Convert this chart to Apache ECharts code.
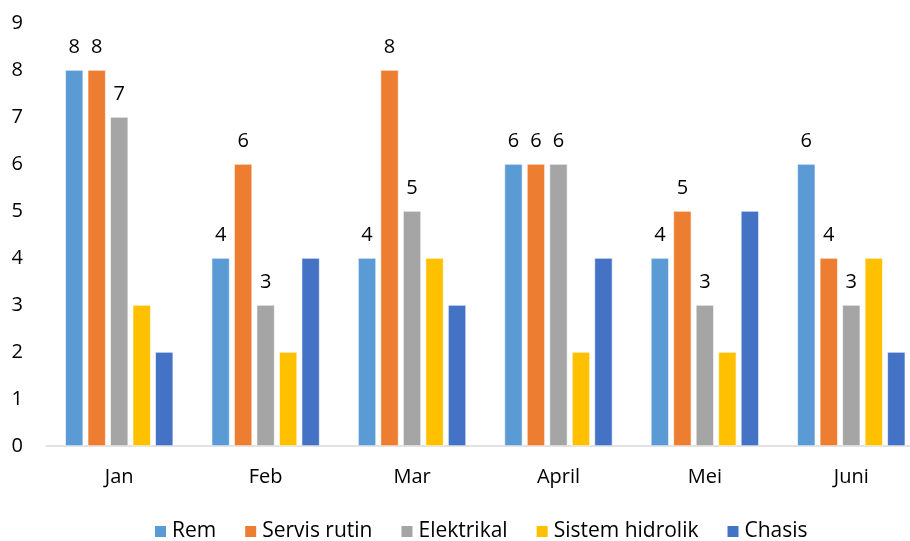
<!DOCTYPE html>
<html>
<head>
<meta charset="utf-8">
<script src="https://cdn.jsdelivr.net/npm/echarts@6/dist/echarts.min.js"></script>
<style>
html, body { margin: 0; padding: 0; background: #fff; }
#chart { width: 910px; height: 541px; }
</style>
</head>
<body>
<div id="chart"></div>
<script>
// Monthly repair counts per category
const months = ['Jan', 'Feb', 'Mar', 'April', 'Mei', 'Juni'];
const rem = [8, 4, 4, 6, 4, 6];
const servisRutin = [8, 6, 8, 6, 5, 4];
const elektrikal = [7, 3, 5, 6, 3, 3];
const sistemHidrolik = [3, 2, 4, 2, 2, 4];
const chasis = [2, 4, 3, 4, 5, 2];
const yTicks = [0, 1, 2, 3, 4, 5, 6, 7, 8, 9];

const FONT = '"Open Sans", "Noto Sans", sans-serif';

function bar(name, data, color, showLabel) {
  return {
    name: name,
    type: 'bar',
    data: data,
    barWidth: 18,
    barGap: '25%',
    itemStyle: { color: color, borderColor: '#ffffff', borderWidth: 0.6 },
    label: {
      show: showLabel,
      position: 'top',
      distance: 13,
      color: '#000',
      fontFamily: FONT,
      fontSize: 20
    }
  };
}

const chart = echarts.init(document.getElementById('chart'));
chart.setOption({
  animation: false,
  backgroundColor: '#ffffff',
  // the plot area runs slightly past the right edge of the canvas
  grid: { left: 46, top: 23, right: -14.5, bottom: 95, outerBoundsMode: 'none', containLabel: false },
  xAxis: {
    type: 'category',
    data: months,
    axisLine: { lineStyle: { color: '#D9D9D9', width: 1.5 } },
    axisTick: { show: false },
    axisLabel: { color: '#000', fontFamily: FONT, fontSize: 20, margin: 21 }
  },
  yAxis: {
    type: 'value',
    min: yTicks[0],
    max: yTicks[yTicks.length - 1],
    interval: 1,
    axisLine: { show: false },
    axisTick: { show: false },
    splitLine: { show: false },
    axisLabel: { color: '#000', fontFamily: FONT, fontSize: 20, margin: 23 }
  },
  legend: {
    left: 153,
    top: 521,
    padding: 0,
    itemWidth: 13,
    itemHeight: 13,
    itemGap: 27,
    icon: 'rect',
    textStyle: { color: '#000', fontFamily: FONT, fontSize: 21 },
    data: ['Rem', 'Servis rutin', 'Elektrikal', 'Sistem hidrolik', 'Chasis']
  },
  series: [
    bar('Rem', rem, '#5B9BD5', true),
    bar('Servis rutin', servisRutin, '#ED7D31', true),
    bar('Elektrikal', elektrikal, '#A5A5A5', true),
    bar('Sistem hidrolik', sistemHidrolik, '#FFC000', false),
    bar('Chasis', chasis, '#4472C4', false)
  ]
});
</script>
</body>
</html>
